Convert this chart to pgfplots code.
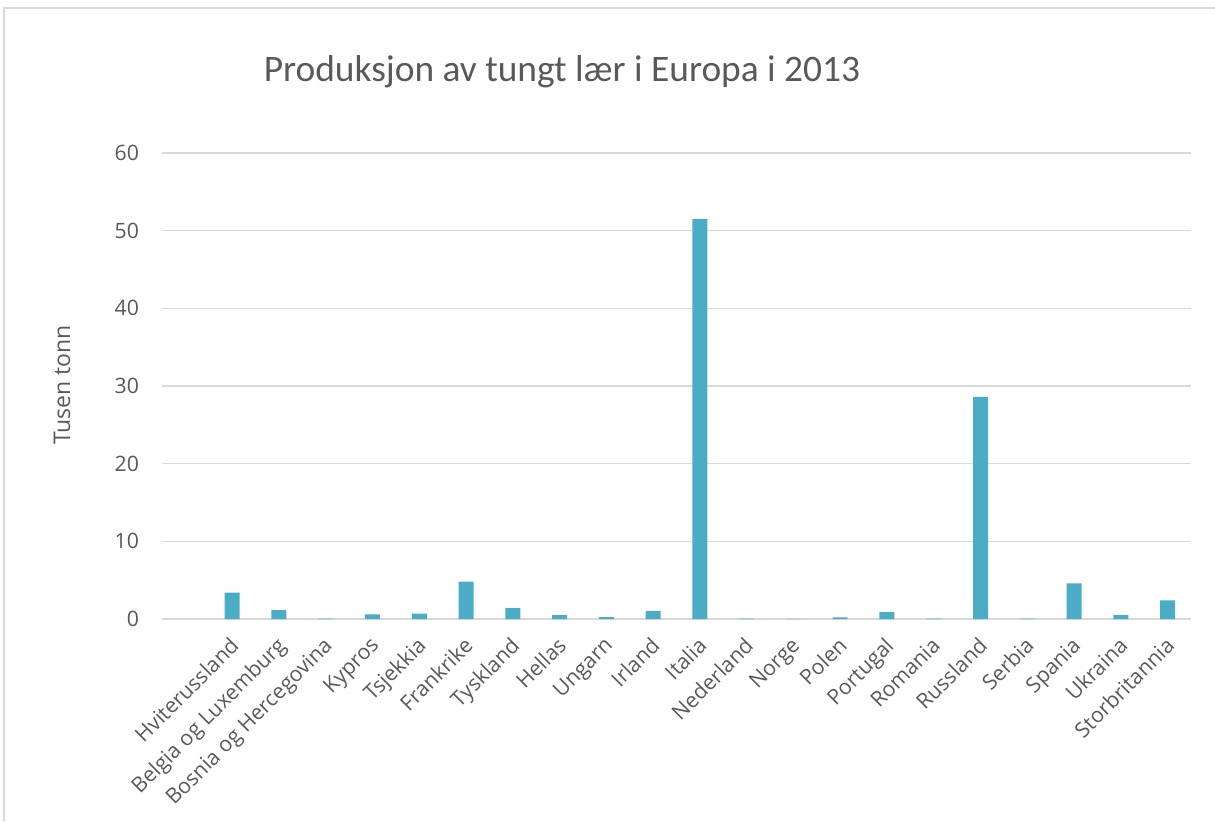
\documentclass[border=0pt]{standalone}
\usepackage{pgfplots}
\pgfplotsset{compat=1.18}
\usepackage{fontspec}
\setmainfont{Open Sans}
\newfontfamily\titlefont{Carlito}
\definecolor{barblue}{HTML}{4BACC6}
\definecolor{gridgray}{HTML}{D9D9D9}
\definecolor{textgray}{HTML}{595959}

\pgfplotstableread{
x  val
1  3.4
2  1.15
3  0.05
4  0.6
5  0.7
6  4.8
7  1.4
8  0.5
9  0.25
10 1.0
11 51.5
12 0.05
13 0.03
14 0.2
15 0.9
16 0.05
17 28.6
18 0.05
19 4.6
20 0.5
21 2.4
}\leather

\begin{document}
\begin{tikzpicture}
  \useasboundingbox (0,0) rectangle (607.5pt,410.5pt);
  % chart frame, only top and left edge are visible
  \draw[gridgray, line width=0.8pt] (2pt,0) -- (2pt,406.5pt) -- (607.5pt,406.5pt);
  \node[text=textgray, font=\titlefont\fontsize{18.7}{22}\selectfont] at (281pt,374.5pt)
    {Produksjon av tungt lær i Europa i 2013};
  \node[text=textgray, rotate=90, font=\fontsize{11.5}{13}\selectfont] at (31pt,218pt) {Tusen tonn};

  \begin{axis}[
    at={(81pt,101pt)}, anchor=south west,
    scale only axis, width=514.5pt, height=233pt,
    ybar, bar width=7.5pt,
    xmin=-0.5, xmax=21.5, ymin=0, ymax=60,
    ytick={0,10,...,60},
    xtick={1,...,21},
    xticklabels={Hviterussland, Belgia og Luxemburg, Bosnia og Hercegovina, Kypros,
      Tsjekkia, Frankrike, Tyskland, Hellas, Ungarn, Irland, Italia, Nederland, Norge,
      Polen, Portugal, Romania, Russland, Serbia, Spania, Ukraina, Storbritannia},
    ymajorgrids, grid style={gridgray, line width=0.7pt},
    axis line style={draw=none},
    major tick length=0pt,
    tick label style={text=textgray, font=\fontsize{10.6}{13}\selectfont},
    % shifts act in the rotated frame
    xticklabel style={rotate=45, anchor=north east, inner sep=1pt, yshift=-3.6pt, xshift=-6pt},
    yticklabel style={xshift=-8pt},
    /pgf/number format/assume math mode=true,
  ]
    \addplot[fill=barblue, draw=none] table[x=x, y=val] {\leather};
  \end{axis}
\end{tikzpicture}
\end{document}
